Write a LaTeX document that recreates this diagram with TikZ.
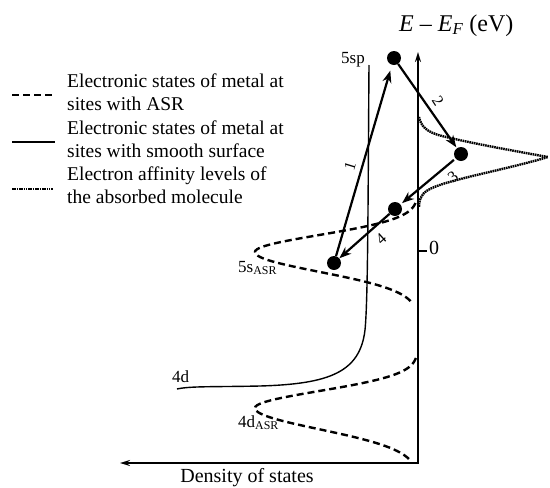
\documentclass[tikz,border=0pt]{standalone}
\usepackage{fontspec}
\setmainfont{Liberation Serif}
\usetikzlibrary{arrows.meta}
\begin{document}
\begin{tikzpicture}[x=1pt,y=-1pt,
  axis/.style={line width=2.2pt},
  asr/.style={line width=2.4pt, dash pattern=on 7pt off 4pt},
  smoothsurf/.style={line width=1.4pt},
  affinity/.style={line width=2.4pt, dash pattern=on 1.6pt off 0.7pt},
  dotnode/.style={circle, fill=black, inner sep=0pt, minimum size=14pt},
  trans/.style={line width=2.2pt, -{Stealth[length=12pt,width=9pt]}},
  lbl/.style={font=\fontsize{19.5}{23}\selectfont, inner sep=0pt, anchor=base west},
  curvelbl/.style={font=\fontsize{17}{17}\selectfont, inner sep=0pt, anchor=base west},
  num/.style={font=\fontsize{16}{16}\selectfont, inner sep=0pt}
]
\useasboundingbox (0,0) rectangle (550,488);
% axes
\coordinate (O) at (418,463);
\coordinate (Ytop) at (418,52);
\coordinate (Xend) at (120,463);
\draw[axis, -{Stealth[length=10pt,width=6pt]}] (418,464) -- (Ytop);
\draw[axis, -{Stealth[length=10pt,width=6pt]}] (O) -- (Xend);
\coordinate (tickA) at (418,251);
\coordinate (tickB) at (427,251);
\draw[line width=1.4pt] (tickA) -- (tickB);
\node[font=\fontsize{20}{20}\selectfont, inner sep=0pt, anchor=west] (zero) at (429,248) {0};
\node[font=\fontsize{24}{24}\selectfont, inner sep=0pt, anchor=base west] (title) at (399,31)
  {\textit{E} – \textit{E}\textsubscript{\textit{F}} (eV)};
\node[font=\fontsize{20}{20}\selectfont, inner sep=0pt, anchor=base] (dos) at (247,482) {Density of states};

% smooth surface curve
\draw[smoothsurf] (369,65) .. controls (368,200) and (368,300) .. (365,330)
  .. controls (360,372) and (330,384) .. (260,386)
  .. controls (215,387) and (190,386) .. (177,389);

% ASR curves
\draw[asr] plot[domain=203:252, samples=40] ({418-163*exp(-(\x-252)*(\x-252)/576)}, \x)
  -- plot[domain=252:303, samples=40] ({418-163*exp(-(\x-252)*(\x-252)/784)}, \x);
\draw[asr] plot[domain=358:408, samples=40] ({418-163*exp(-(\x-408)*(\x-408)/576)}, \x)
  -- plot[domain=408:459, samples=40] ({418-163*exp(-(\x-408)*(\x-408)/900)}, \x);

% affinity curve
\draw[affinity] (419,117) .. controls (421,126) and (426,132) .. (442,136)
  .. controls (470,143) and (520,152) .. (548,157)
  .. controls (505,170) and (445,180) .. (428,190)
  .. controls (420,195) and (419,201) .. (419,207);

% curve labels
\node[curvelbl] (l5sp) at (341,63) {5sp};
\node[curvelbl] (l4d) at (172,382) {4d};
\node[curvelbl] (l5s) at (238,272) {5s\textsubscript{ASR}};
\node[curvelbl] (l4dasr) at (238,427) {4d\textsubscript{ASR}};

% dots and transitions
\node[dotnode] (d1) at (394,58) {};
\node[dotnode] (d2) at (461,154) {};
\node[dotnode] (d3) at (395,209) {};
\node[dotnode] (d4) at (334,263) {};
\draw[trans, shorten >=6pt] (d4) -- (d1);
\draw[trans, shorten >=1pt] (d1) -- (d2);
\draw[trans, shorten >=2pt, shorten <=2pt] (d2) -- (d3);
\draw[trans] (d3) -- (d4);
\node[num, rotate=73] (n1) at (350,166) {1};
\node[num, rotate=-57] (n2) at (438,101) {2};
\node[num, rotate=39] (n3) at (453,177) {3};
\node[num, rotate=42] (n4) at (381,239) {4};

% legend
\coordinate (la1) at (12,95); \coordinate (lb1) at (52,95);
\coordinate (la2) at (12,142); \coordinate (lb2) at (55,142);
\coordinate (la3) at (12,189); \coordinate (lb3) at (53,189);
\draw[asr] (la1) -- (lb1);
\draw[smoothsurf, line width=1.8pt] (la2) -- (lb2);
\draw[affinity] (la3) -- (lb3);
\node[lbl] (t1) at (67,87) {Electronic states of metal at};
\node[lbl] (t2) at (67,110) {sites with ASR};
\node[lbl] (t3) at (67,134) {Electronic states of metal at};
\node[lbl] (t4) at (67,157) {sites with smooth surface};
\node[lbl] (t5) at (67,180) {Electron affinity levels of};
\node[lbl] (t6) at (67,203) {the absorbed molecule};
\end{tikzpicture}
\end{document}
